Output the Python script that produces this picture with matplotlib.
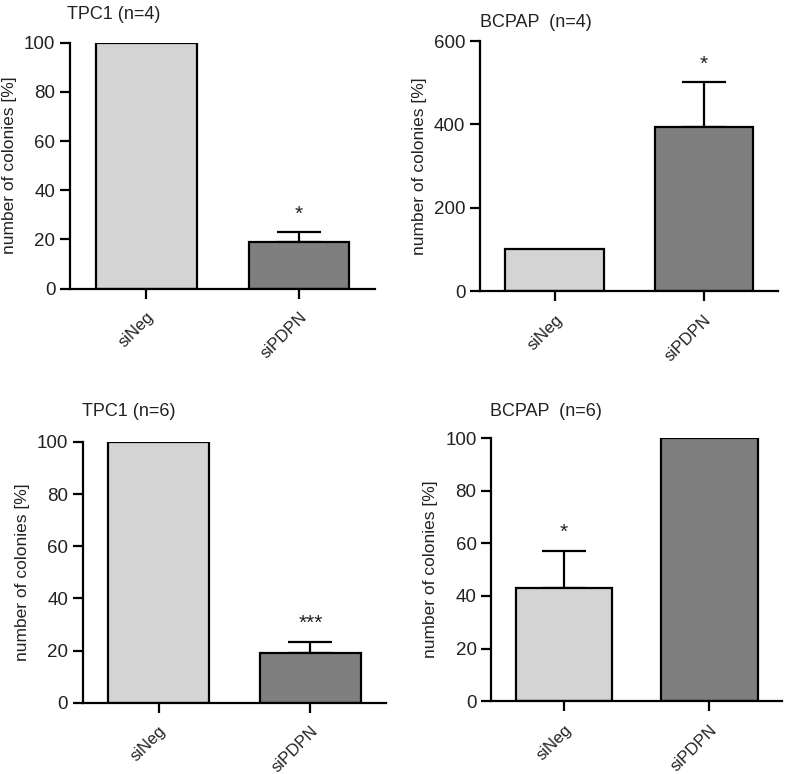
import matplotlib
matplotlib.use("Agg")
import matplotlib.pyplot as plt

plt.rcParams['font.family'] = ['Liberation Sans', 'DejaVu Sans']

groups = ["siNeg", "siPDPN"]
bar_colors = ["#d4d4d4", "#7f7f7f"]

titles = ["TPC1 (n=4)", "BCPAP  (n=4)", "TPC1 (n=6)", "BCPAP  (n=6)"]
means = [[100, 19], [100, 394], [100, 19], [43, 100]]
errors = [[0, 4], [0, 107], [0, 4.3], [14, 0]]
stars = [["", "*"], ["", "*"], ["", "***"], ["*", ""]]
ylims = [100, 600, 100, 100]
yticks = [[0, 20, 40, 60, 80, 100], [0, 200, 400, 600],
          [0, 20, 40, 60, 80, 100], [0, 20, 40, 60, 80, 100]]

# axes rectangles in figure fractions
rects = [[0.089, 0.627, 0.388, 0.318],
         [0.610, 0.624, 0.379, 0.323],
         [0.105, 0.092, 0.386, 0.337],
         [0.624, 0.094, 0.370, 0.340]]
title_pos = [(0.085, 0.992), (0.610, 0.982), (0.104, 0.479), (0.623, 0.479)]

text_color = "#222222"
fig = plt.figure(figsize=(7.87, 7.74), dpi=100)

for i in range(4):
    ax = fig.add_axes(rects[i])
    x = range(len(groups))
    ax.bar(x, means[i], width=0.66, color=bar_colors, edgecolor="black",
           linewidth=1.6, zorder=2)
    for j in x:
        if errors[i][j] > 0:
            ax.errorbar(j, means[i][j], yerr=[[0], [errors[i][j]]], fmt="none",
                        ecolor="black", elinewidth=1.6, capsize=16,
                        capthick=1.6, zorder=1)
        if stars[i][j]:
            top = means[i][j] + errors[i][j]
            ax.text(j, top + ylims[i] * 0.035, stars[i][j], ha="center",
                    va="bottom", fontsize=15, color=text_color)
    ax.set_xlim(-0.5, 1.5)
    ax.set_ylim(0, ylims[i])
    ax.set_yticks(yticks[i])
    ax.set_xticks(list(x))
    ax.set_xticklabels(groups, rotation=45, ha="right", rotation_mode="anchor",
                       fontsize=12, color=text_color)
    ax.tick_params(axis="y", labelsize=13.5, labelcolor=text_color, width=1.6,
                   length=7, direction="out")
    ax.tick_params(axis="x", width=1.6, length=7, direction="out", pad=8)
    ax.spines["top"].set_visible(False)
    ax.spines["right"].set_visible(False)
    ax.spines["left"].set_linewidth(1.6)
    ax.spines["bottom"].set_linewidth(1.6)
    ax.set_ylabel("number of colonies [%]", fontsize=12.5, color=text_color,
                  labelpad=5)
    fig.text(title_pos[i][0], title_pos[i][1], titles[i], fontsize=13,
             color=text_color, ha="left", va="top")

fig.savefig("out.png", dpi=100)
